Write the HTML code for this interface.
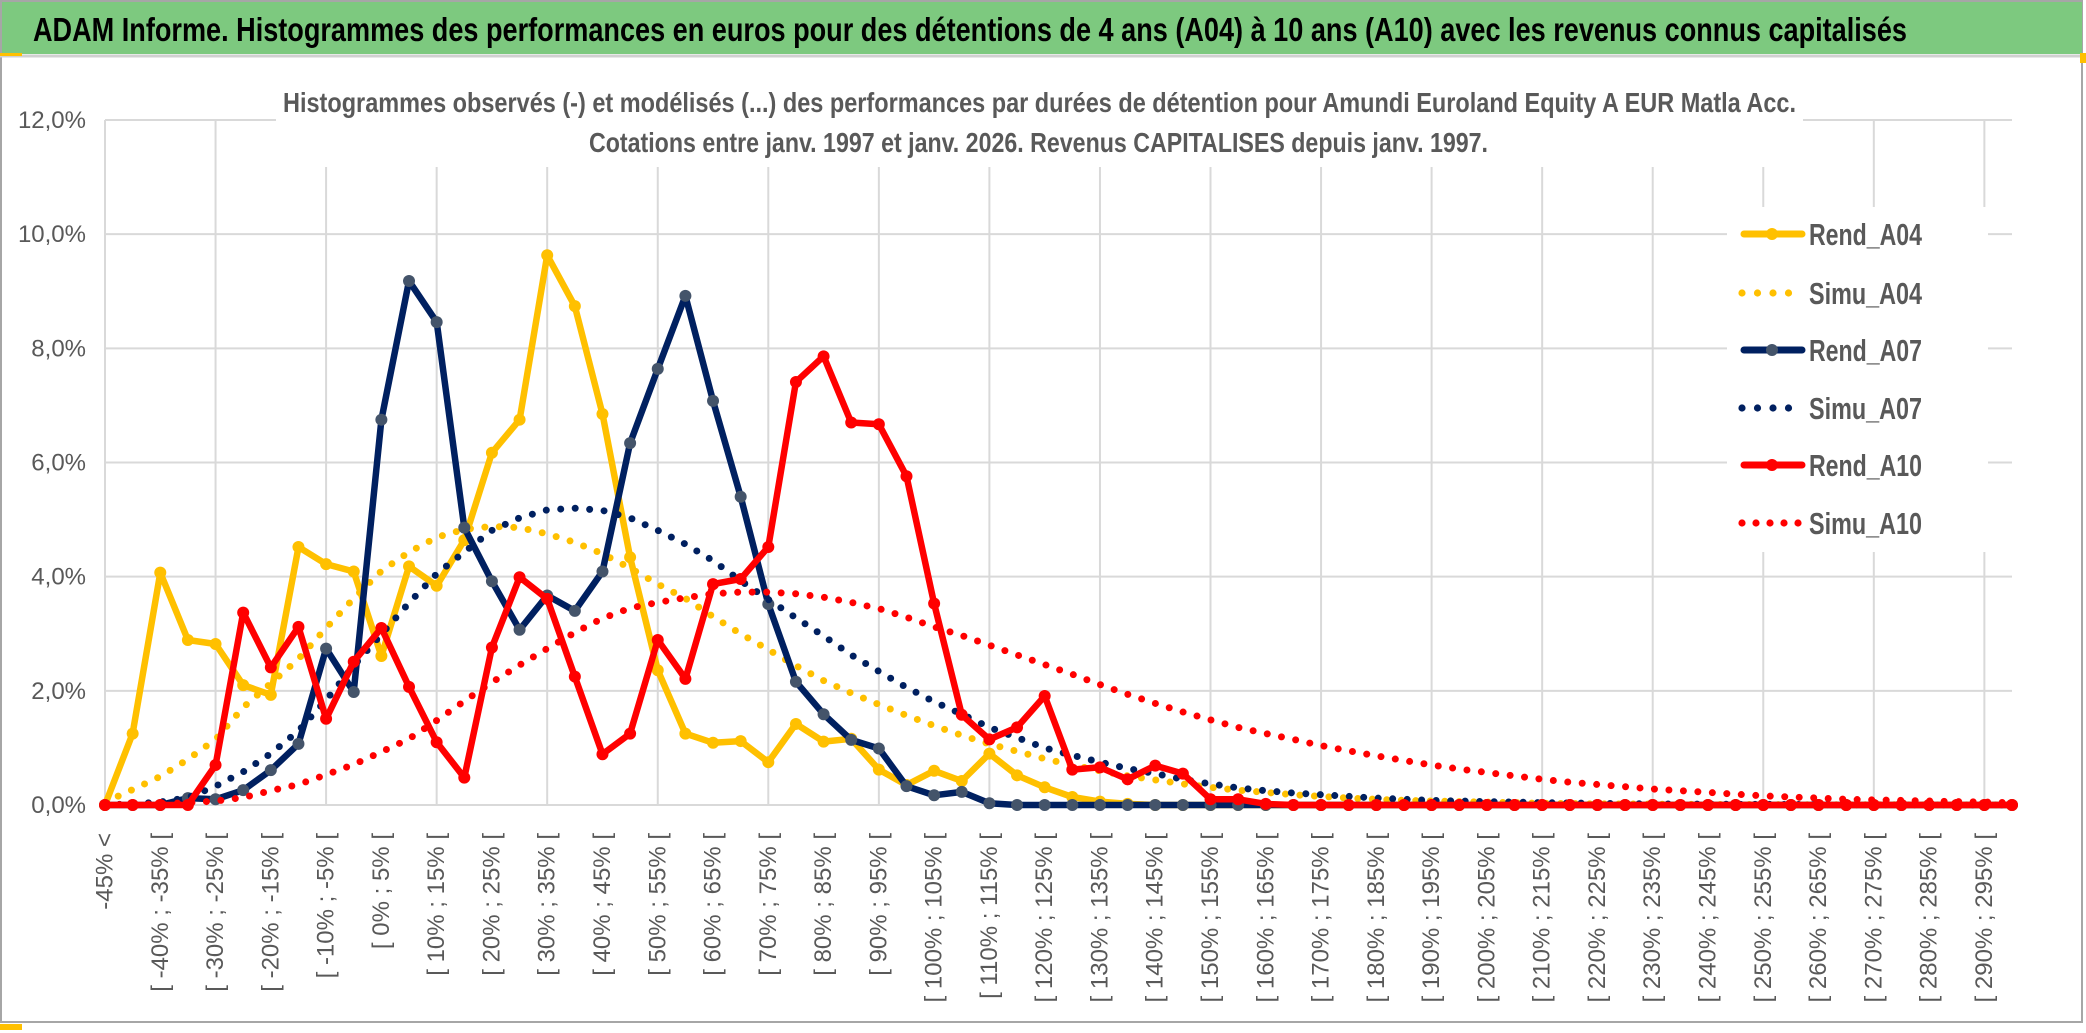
<!DOCTYPE html>
<html><head><meta charset="utf-8">
<style>
html,body{margin:0;padding:0;background:#fff;}
svg{display:block;}
text{font-family:"Liberation Sans",sans-serif;}
</style></head>
<body>
<svg id="chart" width="2086" height="1033" viewBox="0 0 2086 1033" xmlns="http://www.w3.org/2000/svg">
  <rect x="0" y="0" width="2086" height="1033" fill="#fff"/>
  <rect x="1" y="1" width="2081" height="1021" fill="none" stroke="#A6A6A6" stroke-width="2"/>
  <rect x="2" y="2" width="2080" height="52" fill="#7DC97F"/>
  <line x1="0" y1="56" x2="2082" y2="56" stroke="#D0D0D0" stroke-width="3"/>
  <rect x="0" y="53" width="22" height="3" fill="#FFC000"/>
  <rect x="2080" y="53" width="6" height="10" fill="#FFC000"/>
  <rect x="0" y="1024" width="22" height="6" fill="#FFC000"/>
  <text x="33" y="41" font-size="33" font-weight="bold" fill="#000" textLength="1874" lengthAdjust="spacingAndGlyphs">ADAM Informe. Histogrammes des performances en euros pour des détentions de 4 ans (A04) à 10 ans (A10) avec les revenus connus capitalisés</text>
  <g id="grid"></g>
  <rect x="276" y="98" width="1527" height="69" fill="#fff"/>
  <text x="283" y="112" font-size="28" font-weight="bold" fill="#595959" textLength="1513" lengthAdjust="spacingAndGlyphs">Histogrammes observés (-) et modélisés (...) des performances par durées de détention pour Amundi Euroland Equity A EUR Matla Acc.</text>
  <text x="589" y="152" font-size="28" font-weight="bold" fill="#595959" textLength="899" lengthAdjust="spacingAndGlyphs">Cotations entre janv. 1997 et janv. 2026. Revenus CAPITALISES depuis janv. 1997.</text>
  <g id="yaxis"></g>
  <g id="xaxis"></g>
  <g id="series"></g>
  <g id="legend"></g>
</svg>
<script>
// ---- data ----
const yTicks = [0, 2, 4, 6, 8, 10, 12];
const yTickLabels = ["0,0%", "2,0%", "4,0%", "6,0%", "8,0%", "10,0%", "12,0%"];
const categories = ["-45% <"];
for (let lo = -45; lo <= 295; lo += 5) categories.push("[ " + lo + "% ; " + (lo + 5) + "% [");

const rendA04 = [0,1.25,4.07,2.89,2.82,2.10,1.93,4.52,4.22,4.09,2.61,4.18,3.84,4.64,6.17,6.75,9.63,8.74,6.85,4.34,2.36,1.25,1.09,1.12,0.75,1.42,1.11,1.16,0.62,0.35,0.60,0.42,0.90,0.52,0.31,0.14,0.06,0.02,0,0,0,0,0,0,0,0,0,0,0,0,0,0,0,0,0,0,0,0,0,0,0,0,0,0,0,0,0,0,0,0];
const simuA04 = [0.05,0.27,0.5,0.8,1.15,1.71,2.13,2.56,3.1,3.62,4.10,4.43,4.69,4.83,4.88,4.86,4.75,4.6,4.4,4.15,3.87,3.62,3.3,3.0,2.72,2.44,2.18,1.96,1.76,1.57,1.39,1.22,1.07,0.94,0.81,0.70,0.60,0.51,0.44,0.37,0.31,0.26,0.22,0.18,0.15,0.12,0.10,0.08,0.07,0.06,0.05,0.04,0.03,0.025,0.02,0.017,0.014,0.012,0.01,0.008,0.007,0.006,0.005,0.004,0.003,0.003,0.002,0.002,0.002,0.001];
const rendA07 = [0,0,0,0.12,0.1,0.26,0.61,1.07,2.74,1.98,6.75,9.18,8.46,4.86,3.92,3.07,3.67,3.40,4.09,6.34,7.64,8.92,7.08,5.40,3.52,2.16,1.59,1.14,0.99,0.33,0.17,0.23,0.03,0,0,0,0,0,0,0,0,0,0,0,0,0,0,0,0,0,0,0,0,0,0,0,0,0,0,0,0,0,0,0,0,0,0,0,0,0];
const simuA07 = [0,0.02,0.05,0.13,0.33,0.58,0.9,1.3,1.84,2.44,2.99,3.54,4.05,4.43,4.81,5.03,5.17,5.20,5.16,5.03,4.81,4.57,4.28,3.93,3.60,3.28,2.96,2.63,2.34,2.06,1.81,1.59,1.36,1.18,1.00,0.87,0.75,0.64,0.55,0.45,0.37,0.30,0.25,0.21,0.18,0.15,0.12,0.10,0.08,0.07,0.06,0.05,0.04,0.035,0.03,0.025,0.02,0.017,0.014,0.012,0.01,0.008,0.007,0.006,0.005,0.004,0.003,0.003,0.002,0.002];
const rendA10 = [0,0,0,0,0.70,3.37,2.41,3.12,1.51,2.51,3.10,2.07,1.10,0.48,2.76,3.99,3.61,2.25,0.89,1.25,2.89,2.21,3.87,3.96,4.52,7.41,7.86,6.70,6.67,5.76,3.53,1.58,1.15,1.36,1.91,0.62,0.66,0.45,0.69,0.55,0.10,0.10,0.02,0,0,0,0,0,0,0,0,0,0,0,0,0,0,0,0,0,0,0,0,0,0,0,0,0,0,0];
const simuA10 = [0,0.01,0.02,0.04,0.07,0.13,0.25,0.36,0.53,0.71,0.93,1.16,1.48,1.82,2.15,2.45,2.74,3.02,3.27,3.45,3.55,3.63,3.70,3.73,3.73,3.70,3.64,3.55,3.44,3.29,3.12,2.97,2.80,2.63,2.46,2.29,2.11,1.94,1.78,1.63,1.49,1.36,1.25,1.15,1.04,0.95,0.86,0.78,0.70,0.63,0.57,0.51,0.45,0.40,0.36,0.32,0.28,0.25,0.22,0.19,0.16,0.14,0.12,0.10,0.09,0.08,0.07,0.06,0.05,0.04];
const seriesNames = ["Rend_A04", "Simu_A04", "Rend_A07", "Simu_A07", "Rend_A10", "Simu_A10"];

// ---- layout ----
const NS = "http://www.w3.org/2000/svg";
const X0 = 105, X1 = 2012, Y0 = 805, YTOP = 120, YMAX = 12;
function xPos(i) { return X0 + i * (X1 - X0) / (categories.length - 1); }
function yPos(v) { return Y0 - v * (Y0 - YTOP) / YMAX; }
function mk(tag, attrs, parent) {
  const e = document.createElementNS(NS, tag);
  for (const k in attrs) e.setAttribute(k, attrs[k]);
  parent.appendChild(e);
  return e;
}
const grid = document.getElementById("grid");
const yaxis = document.getElementById("yaxis");
const xaxis = document.getElementById("xaxis");
const sg = document.getElementById("series");
const lg = document.getElementById("legend");

yTicks.forEach((t, k) => {
  const l = mk("line", {x1: X0, x2: X1, y1: yPos(t), y2: yPos(t), stroke: "#D9D9D9", "stroke-width": 2}, grid);
  
  
  const tx = mk("text", {x: 86, y: yPos(t) + 8, "font-size": 24, fill: "#595959", "text-anchor": "end"}, yaxis);
  tx.textContent = yTickLabels[k];
  
  
});
for (let i = 0; i < categories.length; i += 4) {
  const l = mk("line", {x1: xPos(i), x2: xPos(i), y1: YTOP, y2: Y0, stroke: "#D9D9D9", "stroke-width": 2}, grid);
  
  
}
for (let i = 0; i < categories.length; i += 2) {
  const x = xPos(i), y = 833;
  const tx = mk("text", {x: x, y: y, "font-size": 24, fill: "#595959", "text-anchor": "end", "dominant-baseline": "central", transform: "rotate(-90 " + x + " " + y + ")"}, xaxis);
  tx.textContent = categories[i];
  
  
}

function drawRend(vals, color, mcolor, name) {
  const g = mk("g", {}, sg);
  
  
  const pts = vals.map((v, i) => xPos(i).toFixed(1) + "," + yPos(v).toFixed(1)).join(" ");
  const pl = mk("polyline", {points: pts, fill: "none", stroke: color, "stroke-width": 6.5, "stroke-linejoin": "round", "stroke-linecap": "round"}, g);
  
  
  vals.forEach((v, i) => {
    const c = mk("circle", {cx: xPos(i), cy: yPos(v), r: 6, fill: mcolor}, g);
    
    
  });
}
function drawSimu(vals, color, name) {
  const pts = vals.map((v, i) => xPos(i).toFixed(1) + "," + yPos(v).toFixed(1)).join(" ");
  const pl = mk("polyline", {points: pts, fill: "none", stroke: color, "stroke-width": 7, "stroke-linecap": "round", "stroke-dasharray": "0 14.5", "stroke-linejoin": "round"}, sg);
  
  
}
drawRend(rendA04, "#FFC000", "#FFC000", "rend-a04");
drawSimu(simuA04, "#FFC000", "simu-a04");
drawRend(rendA07, "#002060", "#44546A", "rend-a07");
drawSimu(simuA07, "#002060", "simu-a07");
drawRend(rendA10, "#FF0000", "#FF0000", "rend-a10");
drawSimu(simuA10, "#FF0000", "simu-a10");

// legend
const lbox = mk("rect", {x: 1727, y: 207, width: 261, height: 345, fill: "#fff"}, lg);


const legColors = ["#FFC000", "#FFC000", "#002060", "#002060", "#FF0000", "#FF0000"];
const legMarker = ["#FFC000", null, "#44546A", null, "#FF0000", null];
const legY = [234, 293, 350, 408, 465, 523];
seriesNames.forEach((n, k) => {
  const g = mk("g", {}, lg);
  
  
  const y = legY[k];
  if (legMarker[k]) {
    mk("line", {x1: 1744, x2: 1802, y1: y, y2: y, stroke: legColors[k], "stroke-width": 7, "stroke-linecap": "round"}, g);
    mk("circle", {cx: 1772, cy: y, r: 6, fill: legMarker[k]}, g);
  } else {
    const n5 = (k === 5) ? 5 : 4;
    for (let d = 0; d < n5; d++) {
      mk("circle", {cx: 1742 + d * (k === 5 ? 14 : 15.5), cy: y, r: 3.6, fill: legColors[k]}, g);
    }
  }
  const t = mk("text", {x: 1809, y: y + 11, "font-size": 31, "font-weight": "bold", fill: "#595959", textLength: 113, lengthAdjust: "spacingAndGlyphs"}, g);
  t.textContent = n;
  
  
});
</script>
</body></html>
